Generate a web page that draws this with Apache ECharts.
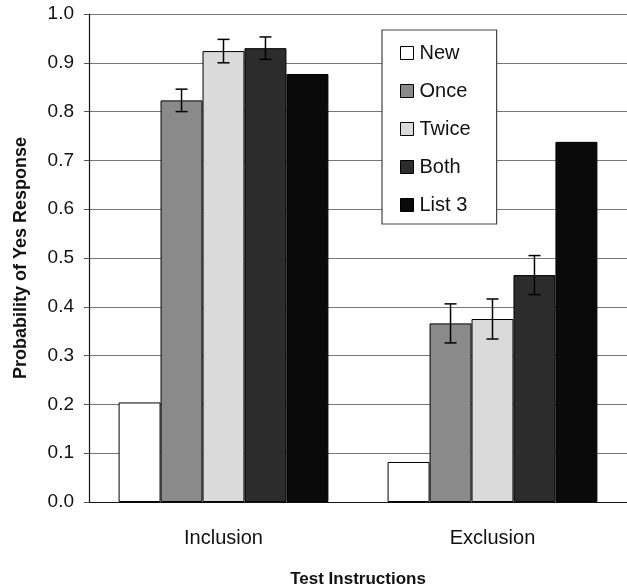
<!DOCTYPE html>
<html>
<head>
<meta charset="utf-8">
<script src="https://cdn.jsdelivr.net/npm/echarts@6/dist/echarts.min.js"></script>
<style>
  html, body { margin: 0; padding: 0; background: #fff; }
  #chart { width: 627px; height: 588px; }
</style>
</head>
<body>
<div id="chart"></div>
<script>
// categories and series
const categories = ['Inclusion', 'Exclusion'];
const seriesNames = ['New', 'Once', 'Twice', 'Both', 'List 3'];

// bar heights per series (Inclusion, Exclusion)
const newVals = [0.204, 0.082];
const onceVals = [0.823, 0.366];
const twiceVals = [0.924, 0.375];
const bothVals = [0.930, 0.465];
const list3Vals = [0.877, 0.738];

// error bar half-widths (null = no error bar)
const newErr = [null, null];
const onceErr = [0.023, 0.040];
const twiceErr = [0.024, 0.041];
const bothErr = [0.023, 0.040];
const list3Err = [null, null];

const yTicks = [0, 0.1, 0.2, 0.3, 0.4, 0.5, 0.6, 0.7, 0.8, 0.9, 1.0];

const allVals = [newVals, onceVals, twiceVals, bothVals, list3Vals];
const allErrs = [newErr, onceErr, twiceErr, bothErr, list3Err];
const fills = ['#ffffff', '#8a8a8a', '#dadada', '#2c2c2c', '#0a0a0a'];

const GAP = 0.22; // barCategoryGap fraction

const chart = echarts.init(document.getElementById('chart'));

const barSeries = seriesNames.map((name, i) => ({
  name: name,
  type: 'bar',
  data: allVals[i],
  barGap: '0%',
  barCategoryGap: (GAP * 100) + '%',
  itemStyle: { color: fills[i], borderColor: '#000', borderWidth: 1 },
  emphasis: { disabled: true }
}));

// error bars drawn with a custom series, one per bar series
const errSeries = seriesNames.map((name, i) => ({
  type: 'custom',
  silent: true,
  z: 5,
  data: categories.map((c, j) => [j, allVals[i][j], allErrs[i][j]]),
  renderItem: (params, api) => {
    const err = api.value(2);
    if (err === null || err === undefined || isNaN(err)) return;
    const band = api.size([1, 0])[0];
    const bw = band * (1 - GAP) / seriesNames.length;
    const mid = api.coord([api.value(0), api.value(1)]);
    const x = mid[0] + (i - 2) * bw;
    const top = api.coord([api.value(0), api.value(1) + err])[1];
    const bot = api.coord([api.value(0), api.value(1) - err])[1];
    const cap = 6;
    const style = { stroke: '#000', lineWidth: 1.5 };
    return {
      type: 'group',
      children: [
        { type: 'line', shape: { x1: x, y1: top, x2: x, y2: bot }, style: style },
        { type: 'line', shape: { x1: x - cap, y1: top, x2: x + cap, y2: top }, style: style },
        { type: 'line', shape: { x1: x - cap, y1: bot, x2: x + cap, y2: bot }, style: style }
      ]
    };
  }
}));

const option = {
  animation: false,
  textStyle: { fontFamily: 'Liberation Sans, Arial, sans-serif' },
  grid: { left: 89, right: 0, top: 14, bottom: 86, outerBoundsMode: 'none' },
  legend: {
    data: seriesNames,
    orient: 'vertical',
    left: 382,
    top: 30,
    padding: [13, 26, 9, 18],
    itemGap: 18,
    itemWidth: 13,
    itemHeight: 13,
    icon: 'rect',
    itemStyle: { borderColor: '#000', borderWidth: 1 },
    borderColor: '#444',
    borderWidth: 1.2,
    backgroundColor: '#fff',
    textStyle: { fontSize: 20, color: '#111', padding: [0, 0, 0, 1] },
    selectedMode: false
  },
  xAxis: {
    type: 'category',
    data: categories,
    name: 'Test Instructions',
    nameLocation: 'middle',
    nameGap: 69,
    nameTextStyle: { fontSize: 17, fontWeight: 'bold', color: '#111' },
    axisLine: { lineStyle: { color: '#111', width: 1.2 } },
    axisTick: { show: false },
    axisLabel: { fontSize: 20, color: '#111', margin: 26 }
  },
  yAxis: {
    type: 'value',
    min: 0,
    max: 1,
    interval: 0.1,
    name: 'Probability of Yes Response',
    nameLocation: 'middle',
    nameGap: 59,
    nameTextStyle: { fontSize: 18, fontWeight: 'bold', color: '#111' },
    axisLine: { show: true, lineStyle: { color: '#111', width: 1.2 } },
    axisTick: { show: true, length: 5, lineStyle: { color: '#555' } },
    axisLabel: {
      fontSize: 19,
      color: '#111',
      margin: 15,
      formatter: v => {
        const t = yTicks.find(k => Math.abs(k - v) < 1e-6);
        return (t !== undefined ? t : v).toFixed(1);
      }
    },
    splitLine: { show: true, lineStyle: { color: '#777', width: 1 } }
  },
  series: barSeries.concat(errSeries)
};

chart.setOption(option);
</script>
</body>
</html>
